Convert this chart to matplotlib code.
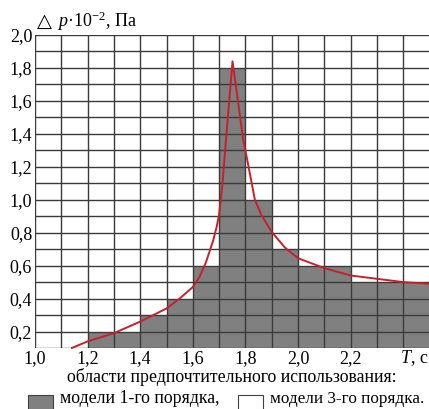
import matplotlib
matplotlib.use("Agg")
import matplotlib.pyplot as plt
from matplotlib.patches import Rectangle
from matplotlib.transforms import blended_transform_factory

plt.rcParams['mathtext.fontset'] = 'custom'
plt.rcParams['mathtext.rm'] = 'Liberation Serif'
plt.rcParams['mathtext.it'] = 'Liberation Serif:italic'

# Data
bar_left = [1.2, 1.3, 1.4, 1.5, 1.6, 1.7, 1.8, 1.9, 2.0, 2.1, 2.2, 2.3, 2.4]
bar_height = [0.2, 0.2, 0.3, 0.4, 0.6, 1.8, 1.0, 0.7, 0.6, 0.6, 0.5, 0.5, 0.5]

curve_x = [1.14, 1.2, 1.3, 1.4, 1.5, 1.55, 1.6, 1.625, 1.65, 1.677, 1.69, 1.70,
           1.713, 1.726, 1.751, 1.792, 1.80, 1.836, 1.86, 1.90, 1.95, 2.0,
           2.1, 2.2, 2.3, 2.4, 2.5]
curve_y = [0.10, 0.14, 0.19, 0.26, 0.34, 0.40, 0.47, 0.53, 0.62, 0.75, 0.83, 0.91,
           1.10, 1.36, 1.84, 1.36, 1.30, 1.00, 0.91, 0.805, 0.71, 0.645,
           0.585, 0.54, 0.52, 0.50, 0.49]

xticks = [1.0, 1.2, 1.4, 1.6, 1.8, 2.0, 2.2]
xticklabels = ["1,0", "1,2", "1,4", "1,6", "1,8", "2,0", "2,2"]
yticks = [0.2, 0.4, 0.6, 0.8, 1.0, 1.2, 1.4, 1.6, 1.8, 2.0]
yticklabels = ["0,2", "0,4", "0,6", "0,8", "1,0", "1,2", "1,4", "1,6", "1,8", "2,0"]

W, H = 429, 409
fig = plt.figure(figsize=(W / 100, H / 100), dpi=100)
ax = fig.add_axes([35 / W, 1 - 348 / H, 394.5 / W, 313 / H])

serif = ['Liberation Serif', 'DejaVu Serif']
fs = 13

ax.bar(bar_left, bar_height, width=0.1, align='edge', color='#808080',
       edgecolor='none', zorder=1)

ax.set_xlim(1.0, 2.5)
ax.set_ylim(0.1, 2.0)

gx = [1.0 + 0.1 * i for i in range(16)]
gy = [0.1 + 0.1 * i for i in range(20)]
for v in gx:
    ax.axvline(v, color='#3a3a3a', lw=1.0, zorder=2)
for v in gy:
    ax.axhline(v, color='#3a3a3a', lw=1.0, zorder=2)

ax.plot(curve_x, curve_y, color='#c8202a', lw=1.4, zorder=3, clip_on=False,
        solid_joinstyle='round')

for s in ax.spines.values():
    s.set_visible(False)

ax.set_xticks(xticks)
ax.set_xticklabels([])
ax.set_yticks(yticks)
ax.set_yticklabels(yticklabels, family=serif, fontsize=fs)
ax.tick_params(length=0, pad=2)

# x tick labels with explicit baseline
tr = blended_transform_factory(ax.transData, fig.transFigure)
for xv, lab in zip(xticks, xticklabels):
    ax.text(xv, 1 - 363 / H, lab, transform=tr, ha='center', va='baseline',
            family=serif, fontsize=fs, clip_on=False)
ax.text(428 / W, 1 - 363 / H, r"$T$, с", transform=fig.transFigure,
        ha='right', va='baseline', family=serif, fontsize=fs)

fig.text(37 / W, 1 - 27 / H, "△", family=['DejaVu Sans'], fontsize=14,
         ha='left', va='baseline')
fig.text(57 / W, 1 - 27 / H, r"$p$·10$^{-2}$, Па", family=serif, fontsize=fs,
         ha='left', va='baseline')

fig.text(232 / W, 1 - 382 / H, "области предпочтительного использования:",
         family=serif, fontsize=12.8, ha='center', va='baseline')

fig.patches.append(Rectangle((28 / W, 1 - 410 / H), 25 / W, 15 / H,
                             transform=fig.transFigure, facecolor='#808080',
                             edgecolor='#404040', lw=0.8))
fig.text(60 / W, 1 - 403 / H, "модели 1-го порядка,", family=serif, fontsize=12.8,
         ha='left', va='baseline')
fig.patches.append(Rectangle((238 / W, 1 - 410 / H), 25 / W, 15 / H,
                             transform=fig.transFigure, facecolor='white',
                             edgecolor='#404040', lw=0.8))
fig.text(270 / W, 1 - 403 / H, "модели 3-го порядка.", family=serif, fontsize=12.3,
         ha='left', va='baseline')

fig.savefig("out.png", dpi=100)
